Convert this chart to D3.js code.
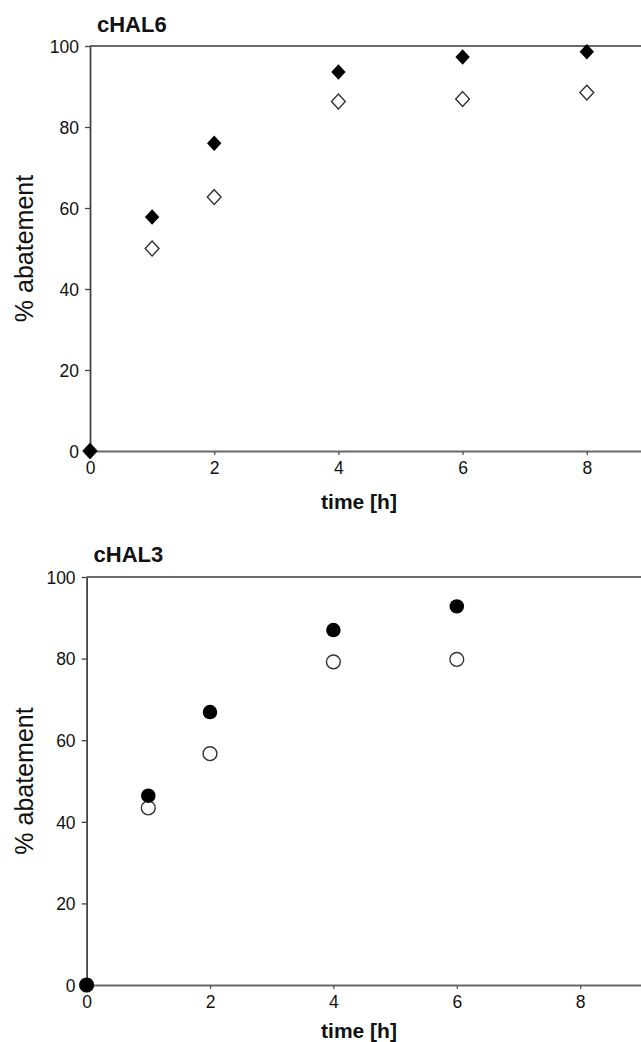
<!DOCTYPE html>
<html>
<head>
<meta charset="utf-8">
<script src="https://cdn.jsdelivr.net/npm/d3@7"></script>
<style>
    body { margin: 0; background: #fff; }
    text { font-family: "Liberation Sans", Arial, sans-serif; fill: #111; }
    .tick text { font-size: 17.5px; }
    .title { font-size: 22px; font-weight: bold; }
    .x-title { font-size: 21px; font-weight: bold; }
    .y-title { font-size: 25px; }
</style>
</head>
<body>
<div id="chart"></div>
<script>
// data
const timeTicks = [0, 2, 4, 6, 8];
const abateTicks = [0, 20, 40, 60, 80, 100];

const hal6Hours = [0, 1, 2, 4, 6, 8];
const hal6Filled = [0, 57.8, 76, 93.6, 97.3, 98.6];
const hal6Open = [0, 50, 62.7, 86.3, 86.9, 88.5];

const hal3Hours = [0, 1, 2, 4, 6];
const hal3Filled = [0, 46.4, 66.9, 87, 92.8];
const hal3Open = [0, 43.4, 56.7, 79.2, 79.8];

// svg setup
let svgWidth = 641;
let svgHeight = 1042;

let svg = d3.select("#chart")
    .append("svg")
    .attr("width", svgWidth)
    .attr("height", svgHeight);

// one panel = one scatter with two series
function drawPanel(opts) {
    // x runs on past the right edge of the picture (cut off there)
    let xScale = d3.scaleLinear()
        .domain([0, 10])
        .range([opts.left, opts.left + opts.hourWidth * 10]);
    let yScale = d3.scaleLinear()
        .domain([0, 100])
        .range([opts.bottom, opts.top]);

    let g = svg.append("g");

    // frame line along the top
    g.append("line")
        .attr("x1", xScale(0))
        .attr("x2", xScale(10))
        .attr("y1", yScale(100))
        .attr("y2", yScale(100))
        .attr("stroke", "#6a6a6a")
        .attr("stroke-width", 2);

    // x axis
    let xAxis = g.append("g")
        .attr("transform", `translate(0,${yScale(0)})`)
        .call(d3.axisBottom(xScale).tickValues(timeTicks).tickSize(4).tickPadding(7).tickSizeOuter(0));
    xAxis.select(".domain").attr("stroke", "#6a6a6a").attr("stroke-width", 2);
    xAxis.selectAll(".tick line").attr("stroke", "#555").attr("stroke-width", 1.3);

    // y axis
    let yAxis = g.append("g")
        .attr("transform", `translate(${xScale(0)},0)`)
        .call(d3.axisLeft(yScale).tickValues(abateTicks).tickSize(5).tickPadding(6).tickSizeOuter(0));
    yAxis.select(".domain").attr("stroke", "#444").attr("stroke-width", 1.8);
    yAxis.selectAll(".tick line").attr("stroke", "#444").attr("stroke-width", 1.3);
    yAxis.selectAll("text").attr("dy", "0.36em");

    // titles
    g.append("text")
        .attr("class", "title")
        .attr("x", opts.left + 7)
        .attr("y", opts.titleY)
        .text(opts.title);

    g.append("text")
        .attr("class", "x-title")
        .attr("text-anchor", "middle")
        .attr("x", 359)
        .attr("y", opts.xTitleY)
        .text("time [h]");

    g.append("text")
        .attr("class", "y-title")
        .attr("text-anchor", "middle")
        .attr("transform", `translate(33,${(yScale(0) + yScale(100)) / 2}) rotate(-90)`)
        .text("% abatement");

    let openData = opts.hours.map((h, i) => ({ x: h, y: opts.open[i] }));
    let filledData = opts.hours.map((h, i) => ({ x: h, y: opts.filled[i] }));

    let symbol = d3.symbol().type(opts.shape);

    // open markers first, filled on top
    g.selectAll(".open")
        .data(openData)
        .enter()
        .append("path")
        .attr("class", "open")
        .attr("d", symbol.size(opts.openSize)())
        .attr("transform", d => `translate(${xScale(d.x)},${yScale(d.y)})`)
        .attr("fill", "#fff")
        .attr("stroke", "#333")
        .attr("stroke-width", 1.4);

    g.selectAll(".filled")
        .data(filledData)
        .enter()
        .append("path")
        .attr("class", "filled")
        .attr("d", symbol.size(opts.filledSize)())
        .attr("transform", d => `translate(${xScale(d.x)},${yScale(d.y)})`)
        .attr("fill", "#000");
}

// diamond shape for cHAL6 panel
let diamond = {
    draw(context, size) {
        let r = Math.sqrt(size / 2);
        context.moveTo(0, -r);
        context.lineTo(r * 0.93, 0);
        context.lineTo(0, r);
        context.lineTo(-r * 0.93, 0);
        context.closePath();
    }
};

drawPanel({
    title: "cHAL6",
    hours: hal6Hours,
    filled: hal6Filled,
    open: hal6Open,
    shape: diamond,
    filledSize: 120,
    openSize: 110,
    left: 90,
    hourWidth: 62.1,
    top: 46,
    bottom: 451,
    titleY: 32,
    xTitleY: 509
});

drawPanel({
    title: "cHAL3",
    hours: hal3Hours,
    filled: hal3Filled,
    open: hal3Open,
    shape: d3.symbolCircle,
    filledSize: 165,
    openSize: 150,
    left: 86.6,
    hourWidth: 61.7,
    top: 577,
    bottom: 985,
    titleY: 562,
    xTitleY: 1038
});
</script>
</body>
</html>
